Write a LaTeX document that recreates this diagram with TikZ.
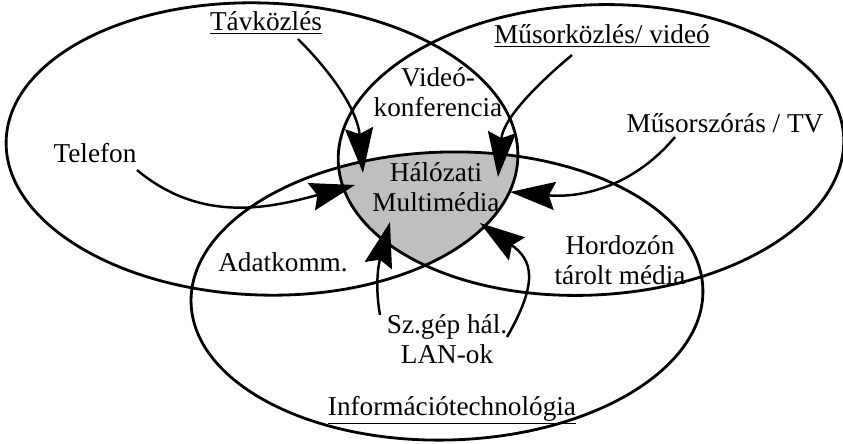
\documentclass[tikz,border=0pt]{standalone}
\usepackage{fontspec}
\setmainfont{Liberation Serif}
\usetikzlibrary{arrows.meta}
\tikzset{
  setline/.style={line width=1.6pt},
  pointer/.style={line width=1.4pt, -{Stealth[length=0.9cm, width=0.56cm, inset=0.12cm]}},
  txt/.style={font=\fontsize{15.5}{17}\selectfont, inner sep=0pt, align=center}
}
\begin{document}
\begin{tikzpicture}
\useasboundingbox (0,0) rectangle (16.86,8.86);
\coordinate (cL) at (5.24, 5.88);
\coordinate (cR) at (11.82, 5.86);
\coordinate (cB) at (8.94, 2.94);
% common part of the three sets
\begin{scope}
\clip[rotate around={-2:(cL)}] (cL) ellipse (5.12 and 2.92);
\clip[rotate around={3:(cR)}] (cR) ellipse (5.06 and 2.90);
\fill[black!25, rotate around={1.5:(cB)}] (cB) ellipse (5.12 and 2.88);
\end{scope}
\draw[setline, rotate around={-2:(cL)}] (cL) ellipse (5.12 and 2.92);
\draw[setline, rotate around={3:(cR)}] (cR) ellipse (5.06 and 2.90);
\draw[setline, rotate around={1.5:(cB)}] (cB) ellipse (5.12 and 2.88);
\node[txt, anchor=base] (tav) at (5.32, 8.24) {\underline{Távközlés}};
\node[txt, anchor=base] (musor) at (12.04, 7.98) {\underline{Műsorközlés/ videó}};
\node[txt] (video) at (8.76, 7.02) {Videó-\\konferencia};
\node[txt, anchor=base] (tel) at (1.9, 5.6) {Telefon};
\node[txt, anchor=base] (tv) at (14.5, 6.2) {Műsorszórás / TV};
\node[txt] (halo) at (8.72, 5.12) {Hálózati\\Multimédia};
\node[txt, anchor=base] (adat) at (5.66, 3.42) {Adatkomm.};
\node[txt] (hord) at (12.4, 3.66) {Hordozón\\tárolt média};
\node[txt] (lan) at (8.94, 2.08) {Sz.gép hál.\\LAN-ok};
\node[txt, anchor=base] (info) at (9.04, 0.56) {\underline{Információtechnológia}};
% arrow ends
\coordinate (tavS) at (5.96, 8.08);
\coordinate (tavE) at (7.26, 5.4);
\coordinate (musS) at (11.44, 7.76);
\coordinate (musE) at (9.96, 5.32);
\coordinate (telS) at (2.74, 5.46);
\coordinate (telE) at (7.1, 5.16);
\coordinate (tvS) at (13.5, 6.12);
\coordinate (tvE) at (10.2, 5.02);
\coordinate (lanS) at (7.6, 2.56);
\coordinate (lanE) at (7.8, 4.42);
\coordinate (hlS) at (10.14, 2.12);
\coordinate (hlE) at (9.6, 4.4);
\draw[pointer] (tavS) to[out=-45, in=95] (tavE);
\draw[pointer] (musS) to[out=-140, in=85] (musE);
\draw[pointer] (telS) to[out=-40, in=195] (telE);
\draw[pointer] (tvS) to[out=-130, in=-5] (tvE);
\draw[pointer] (lanS) to[out=100, in=-105] (lanE);
\draw[pointer] (hlS) to[out=60, in=-35, looseness=1.4] (hlE);
\end{tikzpicture}
\end{document}
